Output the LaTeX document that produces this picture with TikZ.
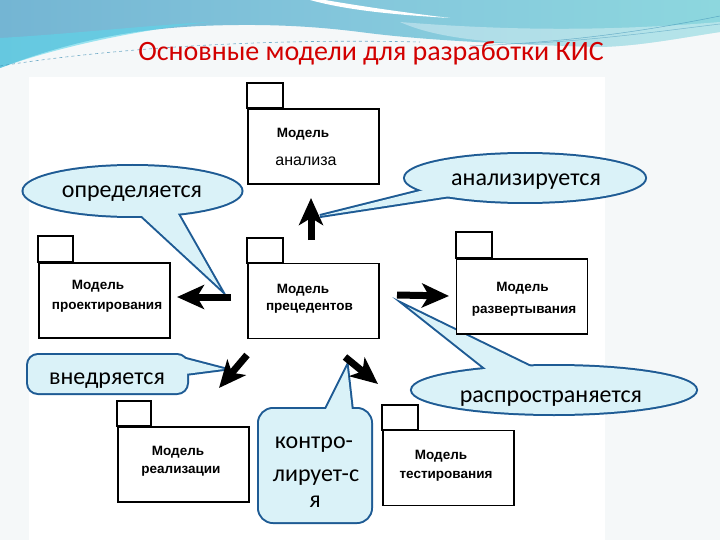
\documentclass[tikz,border=0pt]{standalone}
\usepackage{fontspec}
\setmainfont{Carlito}
\newfontfamily\arialf{Liberation Sans}
\usetikzlibrary{arrows.meta,calc}
\definecolor{wblue}{HTML}{74B5D3}
\definecolor{wmid}{HTML}{84C7DC}
\definecolor{wteal}{HTML}{8DD7DE}
\definecolor{wcyan}{HTML}{5CD6EA}
\definecolor{wstreak}{HTML}{3A8DB4}
\definecolor{bggray}{HTML}{F5F8F9}
\definecolor{cborder}{HTML}{1E5B94}
\definecolor{cfillc}{HTML}{DAF2F8}
\definecolor{titlered}{HTML}{D20000}
\begin{document}
\begin{tikzpicture}[x=1pt,y=-1pt,
  pkg/.style={draw=black, line width=1.6pt, fill=white, minimum width=131pt, minimum height=75pt, inner sep=0pt},
  pkgtab/.style={draw=black, line width=1.6pt, fill=white},
  pkgb/.style={font=\arialf\bfseries\fontsize{13.5}{15}\selectfont, anchor=base, inner sep=0pt},
  pkgr/.style={font=\arialf\fontsize{16}{18}\selectfont, anchor=base, inner sep=0pt},
  ctext/.style={font=\fontsize{24}{28}\selectfont, anchor=base, inner sep=0pt},
  cbord/.style={draw=cborder, line width=4pt, line join=miter, miter limit=20},
  cfill/.style={fill=cfillc},
  bigarrow/.style={line width=7pt, -{Stealth[length=27pt, width=24pt, inset=7pt]}}
]
\useasboundingbox (0,0) rectangle (720,540);
% background
\fill[bggray] (0,0) rectangle (720,540);
\fill[white] (29,77) rectangle (605,540);
\shade[left color=wblue, right color=wteal, middle color=wmid]
  (0,0) -- (720,0) -- (720,32) .. controls (680,38) and (640,46) .. (600,47)
  .. controls (500,44) and (420,40) .. (360,32)
  .. controls (320,27) and (270,23) .. (200,26)
  .. controls (120,30) and (60,45) .. (0,68) -- cycle;
\fill[wcyan, opacity=0.6] (0,38) .. controls (70,34) and (140,26) .. (210,22)
  .. controls (140,30) and (60,46) .. (0,68) -- cycle;
\fill[white] (325,0) .. controls (360,6) and (400,12) .. (450,18)
  .. controls (400,15) and (350,11) .. (310,0) -- cycle;
\fill[white, opacity=0.35] (400,22) .. controls (500,30) and (600,32) .. (720,22)
  -- (720,32) .. controls (680,38) and (640,46) .. (600,47)
  .. controls (500,44) and (440,40) .. (400,22) -- cycle;
\draw[wstreak, line width=0.6pt, dashed, opacity=0.7] (0,66) .. controls (100,50) and (250,38) .. (420,42);
\draw[wstreak, line width=0.5pt, opacity=0.6] (470,46) .. controls (580,42) and (660,28) .. (720,16);
\draw[wstreak, line width=0.5pt, opacity=0.5] (520,44) .. controls (600,40) and (670,30) .. (720,24);
% title
\node[font=\fontsize{28}{32}\selectfont, text=titlered, anchor=base, inner sep=0pt] (title) at (371,61) {Основные модели для разработки КИС};
% callout anchor coordinates
\coordinate (c1) at (132.5,191);
\coordinate (c1t) at (220,288);
\coordinate (c2) at (525,178);
\coordinate (c2t) at (320,216);
\coordinate (c3) at (554,390);
\coordinate (c3t) at (408,307);
\coordinate (c4t) at (224,369);
\coordinate (c5t) at (347,367);
% callout outlines
\draw[cbord] (c1) ellipse [x radius=109pt, y radius=25pt];
\draw[cbord] ($(c1)+(3,19)$) -- (c1t) -- ($(c1)+(42,17)$);
\draw[cbord] (c2) ellipse [x radius=120pt, y radius=24pt];
\draw[cbord] ($(c2)+(-93,10)$) -- (c2t) -- ($(c2)+(-68,17)$);
\draw[cbord] (c3) ellipse [x radius=142pt, y radius=24pt];
\draw[cbord] ($(c3)+(-64,-18)$) -- (c3t) -- ($(c3)+(-21,-22)$);
\draw[cbord, rounded corners=10pt] (28,355) rectangle (187,393);
\draw[cbord] (178,357) -- (c4t) -- (185,374);
\draw[cbord, rounded corners=14pt] (259,409) rectangle (371,522);
\draw[cbord] (325,411) -- (c5t) -- (352,411);
% callout fills
\fill[cfill] (c1) ellipse [x radius=109pt, y radius=25pt];
\fill[cfill] ($(c1)+(3,19)$) -- (c1t) -- ($(c1)+(42,17)$) -- cycle;
\fill[cfill] (c2) ellipse [x radius=120pt, y radius=24pt];
\fill[cfill] ($(c2)+(-93,10)$) -- (c2t) -- ($(c2)+(-68,17)$) -- cycle;
\fill[cfill] (c3) ellipse [x radius=142pt, y radius=24pt];
\fill[cfill] ($(c3)+(-64,-18)$) -- (c3t) -- ($(c3)+(-21,-22)$) -- cycle;
\fill[cfill, rounded corners=10pt] (28,355) rectangle (187,393);
\fill[cfill] (178,357) -- (c4t) -- (185,374) -- cycle;
\fill[cfill, rounded corners=14pt] (259,409) rectangle (371,522);
\fill[cfill] (325,411) -- (c5t) -- (352,411) -- cycle;
% callout texts
\node[ctext] (t1) at (132,197) {определяется};
\node[ctext] (t2) at (526,186) {анализируется};
\node[ctext] (t3) at (551,402) {распространяется};
\node[ctext] (t4) at (107,384) {внедряется};
\node[ctext] (t5a) at (314,448) {контро-};
\node[ctext] (t5b) at (316,481) {лирует-с};
\node[ctext] (t5c) at (315,507) {я};
% packages
\node[pkg] (ana) at (313.5,146.5) {};
\draw[pkgtab] (ana.north west) rectangle ++(36,-25);
\node[pkgb] (anaA) at (303,138) {Модель};
\node[pkgr] (anaB) at (306,166) {анализа};
\node[pkg] (des) at (104.5,300.5) {};
\draw[pkgtab] (des.north west) rectangle ++(35,-26);
\node[pkgb] (desA) at (98,289) {Модель};
\node[pkgb] (desB) at (107,309) {проектирования};
\node[pkg] (uc) at (313.5,301) {};
\draw[pkgtab] (uc.north west) rectangle ++(36,-25);
\node[pkgb] (ucA) at (303,293) {Модель};
\node[pkgb] (ucB) at (309.5,310) {прецедентов};
\node[pkg] (dep) at (522,296.5) {};
\draw[pkgtab] (dep.north west) rectangle ++(36,-26);
\node[pkgb] (depA) at (522.5,291) {Модель};
\node[pkgb] (depB) at (524,313) {развертывания};
\node[pkg] (rea) at (183.5,464.5) {};
\draw[pkgtab] (rea.north west) rectangle ++(34,-25);
\node[pkgb] (reaA) at (178,455) {Модель};
\node[pkgb] (reaB) at (181,473) {реализации};
\node[pkg] (tst) at (448.5,468) {};
\draw[pkgtab] (tst.north west) rectangle ++(36,-25);
\node[pkgb] (tstA) at (441,459) {Модель};
\node[pkgb] (tstB) at (446,478) {тестирования};
% arrows
\coordinate (upT) at (311,240);
\coordinate (upH) at (311,198);
\coordinate (lfT) at (231,297);
\coordinate (lfH) at (177,297);
\coordinate (rtT) at (397,295);
\coordinate (rtH) at (449,296);
\coordinate (dlT) at (247,355);
\coordinate (dlH) at (219,388);
\coordinate (drT) at (345,357);
\coordinate (drH) at (378,384);
\draw[bigarrow] (upT) -- (upH);
\draw[bigarrow] (lfT) -- (lfH);
\draw[bigarrow] (rtT) -- (rtH);
\draw[bigarrow] (dlT) -- (dlH);
\draw[bigarrow] (drT) -- (drH);
\end{tikzpicture}
\end{document}
